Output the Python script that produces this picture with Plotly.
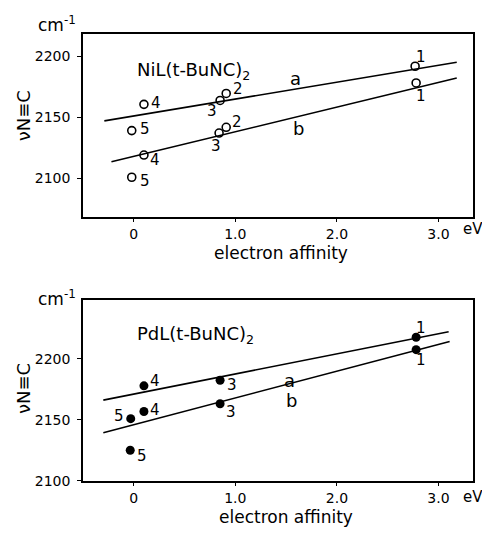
import plotly.graph_objects as go

# ---- data ----
ni_labels = ["1", "2", "3", "4", "5"]
ni_x_a = [2.77, 0.91, 0.85, 0.10, -0.02]
ni_a = [2191.7, 2169.4, 2163.7, 2160.5, 2139.0]
ni_x_b = [2.78, 0.91, 0.84, 0.10, -0.02]
ni_b = [2178.0, 2141.7, 2137.0, 2119.0, 2100.8]
ni_fit_x_a = [-0.29, 3.18]
ni_fit_a = [2147.0, 2195.0]
ni_fit_x_b = [-0.22, 3.18]
ni_fit_b = [2113.5, 2182.0]

pd_labels = ["1", "3", "4", "5"]
pd_x_a = [2.78, 0.85, 0.10, -0.03]
pd_a = [2217.5, 2182.3, 2177.7, 2150.8]
pd_x_b = [2.78, 0.85, 0.10, -0.035]
pd_b = [2207.3, 2163.0, 2156.7, 2125.0]
pd_fit_x_a = [-0.30, 3.10]
pd_fit_a = [2166.0, 2222.0]
pd_fit_x_b = [-0.30, 3.11]
pd_fit_b = [2139.3, 2214.0]

x_ticks = [0, 1, 2, 3]
x_ticktext = ["0", "1.0", "2.0", "3.0"]
y_ticks = [2100, 2150, 2200]

# label offsets (px) for point numbers
ni_off_a = [(6, 9), (12, 4), (-8, -11), (12, 1), (13, 2)]
ni_off_b = [(5, -13), (11, 5), (-3, -13), (11, -5), (13, -4)]
pd_off_a = [(5, 9), (12, -5), (11, 5), (-12, 3)]
pd_off_b = [(5, -10), (11, -8), (11, 1), (12, -6)]

FONT = "DejaVu Sans"
W, H = 482, 537
fig = go.Figure()

line_style = dict(color="black", width=1.6)

# top panel
fig.add_trace(go.Scatter(x=ni_fit_x_a, y=ni_fit_a, mode="lines", line=line_style, xaxis="x", yaxis="y", showlegend=False))
fig.add_trace(go.Scatter(x=ni_fit_x_b, y=ni_fit_b, mode="lines", line=line_style, xaxis="x", yaxis="y", showlegend=False))
open_marker = dict(symbol="circle-open", size=8, color="black", line=dict(width=1.6, color="black"))
fig.add_trace(go.Scatter(x=ni_x_a, y=ni_a, mode="markers", marker=open_marker, xaxis="x", yaxis="y", showlegend=False))
fig.add_trace(go.Scatter(x=ni_x_b, y=ni_b, mode="markers", marker=open_marker, xaxis="x", yaxis="y", showlegend=False))

# bottom panel
fig.add_trace(go.Scatter(x=pd_fit_x_a, y=pd_fit_a, mode="lines", line=line_style, xaxis="x2", yaxis="y2", showlegend=False))
fig.add_trace(go.Scatter(x=pd_fit_x_b, y=pd_fit_b, mode="lines", line=line_style, xaxis="x2", yaxis="y2", showlegend=False))
fill_marker = dict(symbol="circle", size=9, color="black")
fig.add_trace(go.Scatter(x=pd_x_a, y=pd_a, mode="markers", marker=fill_marker, xaxis="x2", yaxis="y2", showlegend=False))
fig.add_trace(go.Scatter(x=pd_x_b, y=pd_b, mode="markers", marker=fill_marker, xaxis="x2", yaxis="y2", showlegend=False))

annotations = []
def lab(xr, yr, x, y, text, dx, dy, size=15):
    annotations.append(dict(x=x, y=y, xref=xr, yref=yr, text=text, showarrow=False,
                            xshift=dx, yshift=dy, font=dict(family=FONT, size=size, color="black")))

for i, t in enumerate(ni_labels):
    lab("x", "y", ni_x_a[i], ni_a[i], t, *ni_off_a[i])
    lab("x", "y", ni_x_b[i], ni_b[i], t, *ni_off_b[i])
for i, t in enumerate(pd_labels):
    lab("x2", "y2", pd_x_a[i], pd_a[i], t, *pd_off_a[i])
    lab("x2", "y2", pd_x_b[i], pd_b[i], t, *pd_off_b[i])

# line labels
lab("x", "y", 1.59, 2181.5, "a", 0, 0, 18)
lab("x", "y", 1.62, 2141.0, "b", 0, 0, 18)
lab("x2", "y2", 1.53, 2182.0, "a", 0, 0, 18)
lab("x2", "y2", 1.55, 2166.0, "b", 0, 0, 18)

def paper(text, px, py, size=15, xanchor="center", angle=0):
    annotations.append(dict(x=px / W, y=1 - py / H, xref="paper", yref="paper", text=text,
                            showarrow=False, xanchor=xanchor, yanchor="middle", textangle=angle,
                            font=dict(family=FONT, size=size, color="black")))

# titles
paper("NiL(t-BuNC)<sub>2</sub>", 135, 72, 18, "left")
paper("PdL(t-BuNC)<sub>2</sub>", 135, 340, 18, "left")
# units
paper("cm<sup>-1</sup>", 36, 24, 17, "left")
paper("cm<sup>-1</sup>", 36, 302, 17, "left")
paper("eV", 461, 232, 15, "left")
paper("eV", 461, 505, 15, "left")
paper("electron affinity", 281, 257, 17)
paper("electron affinity", 286, 525, 17)
paper("νN≡C", 23, 118, 18, angle=-90)
paper("νN≡C", 23, 395, 18, angle=-90)

axis_common = dict(showline=True, linecolor="black", linewidth=1.5, mirror=True, showgrid=False,
                   zeroline=False, ticks="outside", ticklen=4, tickcolor="black", tickwidth=1.2,
                   tickfont=dict(family=FONT, size=14, color="black"))

xd = [83 / W, 473 / W]
fig.update_layout(
    width=W, height=H,
    margin=dict(l=0, r=0, t=0, b=0),
    plot_bgcolor="white", paper_bgcolor="white",
    xaxis=dict(domain=xd, range=[-0.50, 3.34], anchor="y", tickvals=x_ticks, ticktext=x_ticktext, **axis_common),
    yaxis=dict(domain=[1 - 220 / H, 1 - 35 / H], range=[2068.5, 2217.7], anchor="x", tickvals=y_ticks,
               ticklabelstandoff=4, **axis_common),
    xaxis2=dict(domain=xd, range=[-0.50, 3.34], anchor="y2", tickvals=x_ticks, ticktext=x_ticktext, **axis_common),
    yaxis2=dict(domain=[1 - 488 / H, 1 - 305 / H], range=[2100, 2247.6], anchor="x2", tickvals=y_ticks,
                ticklabelstandoff=4, **axis_common),
    annotations=annotations,
)

fig.write_html("out.html", config={"displayModeBar": False},
               post_script="document.body.style.margin='0px';document.body.style.overflow='hidden';")
